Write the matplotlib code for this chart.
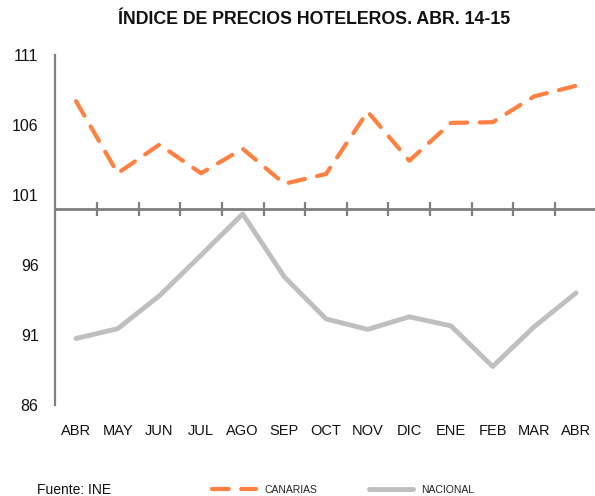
import matplotlib
matplotlib.use("Agg")
import matplotlib.pyplot as plt

months = ["ABR", "MAY", "JUN", "JUL", "AGO", "SEP", "OCT", "NOV", "DIC", "ENE", "FEB", "MAR", "ABR"]
canarias = [107.7, 102.55, 104.6, 102.55, 104.3, 101.8, 102.5, 106.95, 103.45, 106.15, 106.2, 108.05, 108.8]
nacional = [90.75, 91.45, 93.8, 96.7, 99.65, 95.15, 92.15, 91.4, 92.3, 91.65, 88.75, 91.6, 94.0]
yticks = [86, 91, 96, 101, 106, 111]
cross_value = 100
title = "ÍNDICE DE PRECIOS HOTELEROS. ABR. 14-15"
source = "Fuente: INE"

plt.rcParams['font.family'] = ['Liberation Sans', 'DejaVu Sans']

W, H = 595, 496
fig = plt.figure(figsize=(W / 100, H / 100), dpi=100)
ax = fig.add_axes([55.2 / W, 1 - 405 / H, (596.8 - 55.2) / W, 350 / H])

x = list(range(len(months)))
l1, = ax.plot(x, canarias, color="#FF8040", lw=3.0, linestyle=(0, (4, 3)),
              dash_capstyle="round", solid_capstyle="round", label="CANARIAS", zorder=3)
l2, = ax.plot(x, nacional, color="#BFBFBF", lw=3.5, solid_capstyle="round",
              label="NACIONAL", zorder=3)

ax.set_xlim(-0.5, len(months) - 0.5)
ax.set_ylim(86, 111)
ax.set_yticks(yticks)
ax.tick_params(axis="y", length=0, pad=12, labelsize=11.5, labelcolor="#111111")

ax.spines["top"].set_visible(False)
ax.spines["right"].set_visible(False)
ax.spines["left"].set_color("#7F7F7F")
ax.spines["left"].set_linewidth(1.6)
ax.spines["bottom"].set_position(("data", cross_value))
ax.spines["bottom"].set_color("#7F7F7F")
ax.spines["bottom"].set_linewidth(2.0)
ax.spines["bottom"].set_zorder(2)

ax.set_xticks([i + 0.5 for i in range(len(months) - 1)])
ax.set_xticklabels([])
ax.tick_params(axis="x", direction="inout", length=9.5, width=1.6, color="#7F7F7F")

sec = ax.secondary_xaxis(0)
sec.set_xticks(x)
sec.set_xticklabels(months)
sec.tick_params(axis="x", length=0, pad=14, labelsize=10.5, labelcolor="#111111")
sec.spines["bottom"].set_visible(False)

fig.text(314 / W, 1 - 20 / H, title, ha="center", va="center",
         fontsize=12.8, fontweight="bold", color="#111111")
fig.text(37 / W, 1 - 490 / H, source, ha="left", va="center", fontsize=10, color="#111111")

leg = fig.legend(handles=[l1, l2], loc="center left", bbox_to_anchor=(212 / W, 1 - 490 / H),
                 ncol=2, frameon=False, fontsize=7.5, handlelength=4.2, handletextpad=0.8,
                 columnspacing=5.0, borderpad=0, borderaxespad=0)
for t in leg.get_texts():
    t.set_color("#222222")

fig.savefig("out.png", dpi=100)
